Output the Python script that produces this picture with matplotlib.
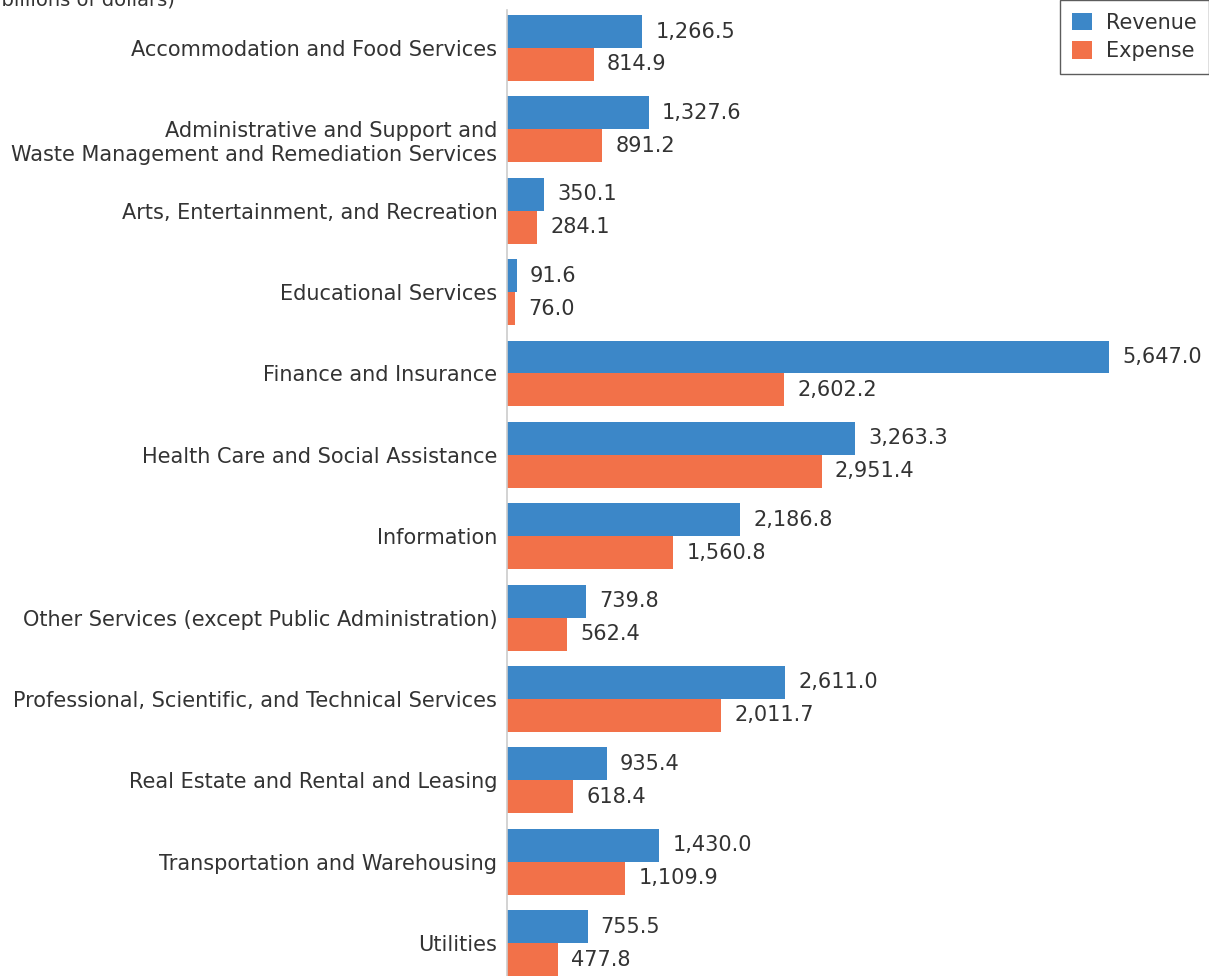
import matplotlib
matplotlib.use("Agg")
import matplotlib.pyplot as plt
import matplotlib.transforms as mtransforms
import numpy as np

categories = [
    "Accommodation and Food Services",
    "Administrative and Support and\nWaste Management and Remediation Services",
    "Arts, Entertainment, and Recreation",
    "Educational Services",
    "Finance and Insurance",
    "Health Care and Social Assistance",
    "Information",
    "Other Services (except Public Administration)",
    "Professional, Scientific, and Technical Services",
    "Real Estate and Rental and Leasing",
    "Transportation and Warehousing",
    "Utilities",
]
revenue = [1266.5, 1327.6, 350.1, 91.6, 5647.0, 3263.3, 2186.8, 739.8, 2611.0, 935.4, 1430.0, 755.5]
expense = [814.9, 891.2, 284.1, 76.0, 2602.2, 2951.4, 1560.8, 562.4, 2011.7, 618.4, 1109.9, 477.8]

BLUE = "#3C87C8"
ORANGE = "#F27149"
TXT = "#333333"
FS = 15

plt.rcParams['font.family'] = ['DejaVu Sans']

W, H = 1209, 976
fig = plt.figure(figsize=(W/100, H/100), dpi=100)
ax_left = 507 / W
ax_top = 10
ax = fig.add_axes([ax_left, 0, 1 - ax_left, 1 - ax_top / H])

y = np.arange(len(categories))
bh = 0.405
ax.barh(y - bh/2, revenue, height=bh, color=BLUE, label="Revenue")
ax.barh(y + bh/2, expense, height=bh, color=ORANGE, label="Expense")

for i, (r, e) in enumerate(zip(revenue, expense)):
    ax.annotate(f"{r:,.1f}", (r, i - bh/2), xytext=(9.5, 0), textcoords="offset points",
                va="center", ha="left", fontsize=FS, color=TXT)
    ax.annotate(f"{e:,.1f}", (e, i + bh/2), xytext=(9.5, 0), textcoords="offset points",
                va="center", ha="left", fontsize=FS, color=TXT)

ax.set_xlim(0, 6585)
ax.set_ylim(11.405, -0.467)
ax.set_yticks(y)
ax.set_yticklabels(categories, fontsize=FS, color=TXT, linespacing=1.2)
ax.tick_params(axis="y", length=0, pad=7)
ax.set_xticks([])
# the two-line label sits lower in the reference
lab = ax.get_yticklabels()[1]
lab.set_transform(lab.get_transform() +
                  mtransforms.ScaledTranslation(0, -10 / 100, fig.dpi_scale_trans))
for s in ["top", "right", "bottom"]:
    ax.spines[s].set_visible(False)
ax.spines["left"].set_color("#cccccc")
ax.spines["left"].set_linewidth(1.2)

leg = ax.legend(loc="upper right", bbox_to_anchor=(1.0, 1 + ax_top / (H - ax_top)),
                fontsize=FS, frameon=True, fancybox=False, edgecolor="#333333",
                handlelength=0.95, handleheight=0.95, handletextpad=0.65,
                borderpad=0.6, labelspacing=0.4, borderaxespad=0)
leg.get_frame().set_linewidth(1.0)
for t in leg.get_texts():
    t.set_color(TXT)

fig.text(-6 / W, 1 - 5 / H, "(billions of dollars)", fontsize=14, color=TXT,
         ha="left", va="baseline")

fig.savefig("out.png", dpi=100)
